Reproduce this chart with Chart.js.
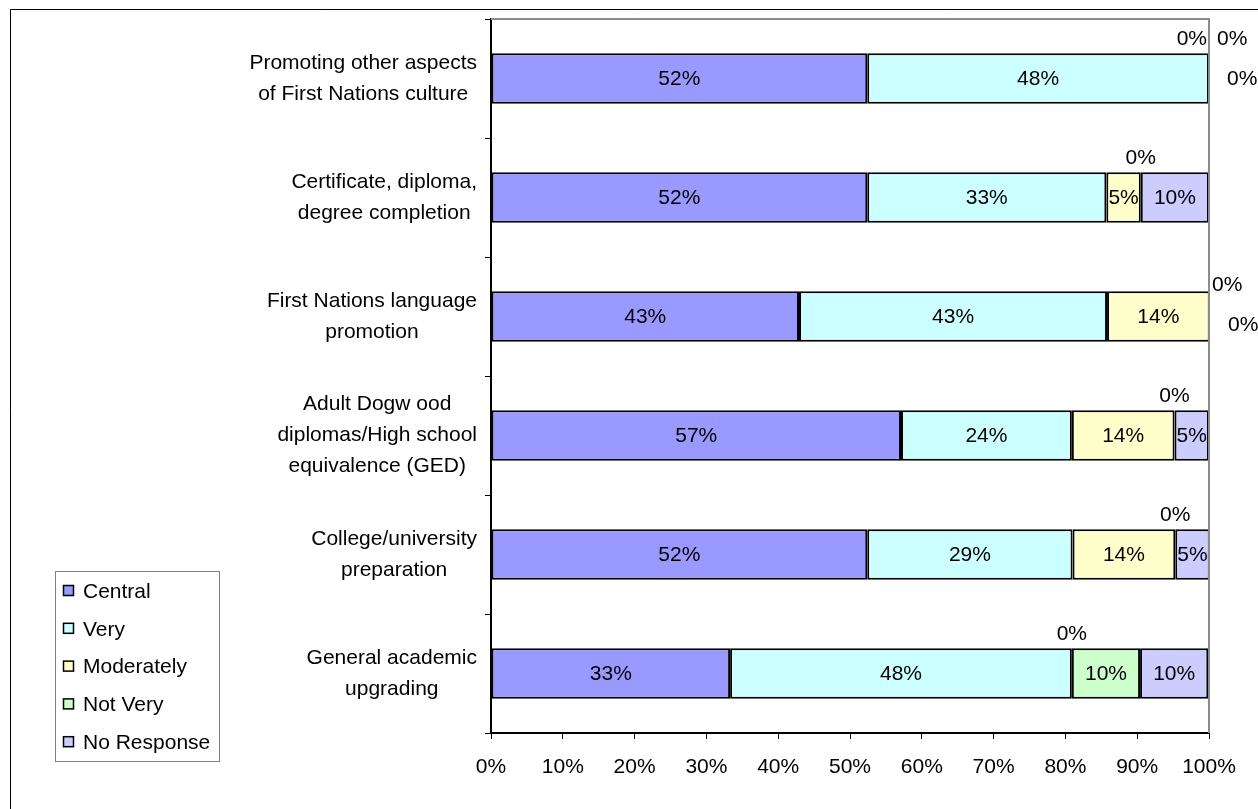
<!DOCTYPE html>
<html>
<head>
<meta charset="utf-8">
<script src="https://cdn.jsdelivr.net/npm/chart.js@4/dist/chart.umd.min.js"></script>
<style>
  html, body { margin: 0; padding: 0; background: #fff; }
  #wrap { width: 1258px; height: 809px; position: relative; }
</style>
</head>
<body>
<div id="wrap"><canvas id="myChart"></canvas></div>
<script>
// categories, top to bottom
const categories = [
  ['Promoting other aspects', 'of First Nations culture'],
  ['Certificate, diploma,', 'degree completion'],
  ['First Nations language', 'promotion'],
  ['Adult Dogw ood', 'diplomas/High school', 'equivalence (GED)'],
  ['College/university', 'preparation'],
  ['General academic', 'upgrading']
];
const seriesNames = ['Central', 'Very', 'Moderately', 'Not Very', 'No Response'];
const seriesColors = ['#9999FF', '#CCFFFF', '#FFFFCC', '#CCFFCC', '#CCCCFF'];

// percent of respondents
const central    = [52.4, 52.4, 42.9, 57.1, 52.4, 33.3];
const very       = [47.6, 33.3, 42.9, 23.8, 28.6, 47.6];
const moderately = [0,    4.8,  14.3, 14.3, 14.3, 0];
const notVery    = [0,    0,    0,    0,    0,    9.5];
const noResponse = [0,    9.5,  0,    4.8,  4.8,  9.5];

const xTicks = [0, 10, 20, 30, 40, 50, 60, 70, 80, 90, 100];

const FONT = 'Liberation Sans, Arial, sans-serif';
const FS = 21;

const seriesData = [central, very, moderately, notVery, noResponse];

// extra drawing: frame, category labels, data labels, legend
const extras = {
  id: 'extras',
  beforeDraw(chart) {
    const c = chart.ctx;
    c.save();
    c.fillStyle = '#fff';
    c.fillRect(0, 0, chart.width, chart.height);
    // outer border
    c.strokeStyle = '#000';
    c.lineWidth = 1;
    c.beginPath();
    c.moveTo(10.5, chart.height + 5);
    c.lineTo(10.5, 9.5);
    c.lineTo(chart.width + 5, 9.5);
    c.stroke();
    c.restore();
  },
  afterDraw(chart) {
    const c = chart.ctx;
    const a = chart.chartArea;
    const ys = chart.scales.y;
    c.save();
    // plot area grey top + right
    c.strokeStyle = '#8c8c8c';
    c.lineWidth = 2;
    c.beginPath();
    c.moveTo(a.left, a.top);
    c.lineTo(a.right, a.top);
    c.lineTo(a.right, a.bottom);
    c.stroke();

    // category labels: block right aligned, lines centered
    c.font = FS + 'px ' + FONT;
    c.fillStyle = '#000';
    c.textBaseline = 'middle';
    c.textAlign = 'center';
    const lh = 31;
    categories.forEach((lines, i) => {
      const yc = ys.getPixelForValue(i);
      const w = Math.max(...lines.map(l => c.measureText(l).width));
      const cx = a.left - 14 - w / 2;
      lines.forEach((l, k) => {
        c.fillText(l, cx, yc + (k - (lines.length - 1) / 2) * lh);
      });
    });

    // data labels
    for (let i = 0; i < categories.length; i++) {
      const endZeros = [];
      seriesData.forEach((arr, d) => {
        const el = chart.getDatasetMeta(d).data[i];
        const v = arr[i];
        const top = el.y - el.height / 2;
        const txt = Math.round(v) + '%';
        if (v > 0) {
          c.textAlign = 'center';
          c.fillText(txt, (el.x + el.base) / 2, el.y + 1);
        } else if (el.x < a.right - 25) {
          c.textAlign = 'center';
          c.fillText(txt, el.x, top - 14);
        } else {
          endZeros.push({ txt, el, top });
        }
      });
      let slots;
      if (endZeros.length >= 3) {
        slots = [['right', -2, 't'], ['left', 8, 't'], ['left', 18, 'c']];
      } else if (endZeros.length === 2) {
        slots = [['left', 3, 'c-31'], ['left', 19, 'c9']];
      } else {
        slots = [['left', 3, 't']];
      }
      endZeros.forEach((z, k) => {
        const s = slots[k];
        let y;
        if (s[2] === 't') y = z.top - 14;
        else if (s[2] === 'c') y = z.el.y + 1;
        else y = z.el.y + parseFloat(s[2].slice(1));
        c.textAlign = s[0];
        c.fillText(z.txt, a.right + s[1], y);
      });
    }

    // legend
    const lx = 55, ly = 571, lw = 164, lhgt = 190;
    c.strokeStyle = '#808080';
    c.lineWidth = 1;
    c.strokeRect(lx + 0.5, ly + 0.5, lw, lhgt);
    c.textAlign = 'left';
    seriesNames.forEach((n, k) => {
      const yy = ly + 20 + k * 37.8;
      c.fillStyle = seriesColors[k];
      c.fillRect(63.5, yy - 5.5, 10, 10);
      c.strokeStyle = '#000';
      c.lineWidth = 1.5;
      c.strokeRect(63.5, yy - 5.5, 10, 10);
      c.fillStyle = '#000';
      c.fillText(n, 83, yy + 1);
    });
    c.restore();
  }
};

const config = {
  type: 'bar',
  data: {
    labels: categories.map(l => l.join(' ')),
    datasets: seriesNames.map((n, k) => ({
      label: n,
      data: seriesData[k],
      backgroundColor: seriesColors[k],
      borderColor: '#000',
      borderWidth: 2,
      borderSkipped: false,
      barPercentage: 0.425,
      categoryPercentage: 1
    }))
  },
  options: {
    indexAxis: 'y',
    responsive: true,
    maintainAspectRatio: false,
    animation: false,
    layout: { padding: { top: 19, right: 49, left: 0, bottom: 0 } },
    plugins: { legend: { display: false }, tooltip: { enabled: false } },
    scales: {
      x: {
        stacked: true,
        min: 0,
        max: 100,
        afterBuildTicks: s => { s.ticks = xTicks.map(v => ({ value: v })); },
        afterFit: s => { s.height = 76; },
        grid: { drawOnChartArea: false, tickLength: 6, color: '#000', lineWidth: 1 },
        border: { color: '#000', width: 2 },
        ticks: {
          color: '#000',
          font: { family: FONT, size: FS },
          padding: 16,
          maxRotation: 0,
          callback: v => v + '%'
        }
      },
      y: {
        stacked: true,
        afterFit: s => { s.width = 491; },
        grid: { offset: true, drawOnChartArea: false, tickLength: 6, color: '#000', lineWidth: 1 },
        border: { color: '#000', width: 2 },
        ticks: { display: false }
      }
    }
  },
  plugins: [extras]
};

let myChart = new Chart(document.getElementById('myChart'), config);
</script>
</body>
</html>
